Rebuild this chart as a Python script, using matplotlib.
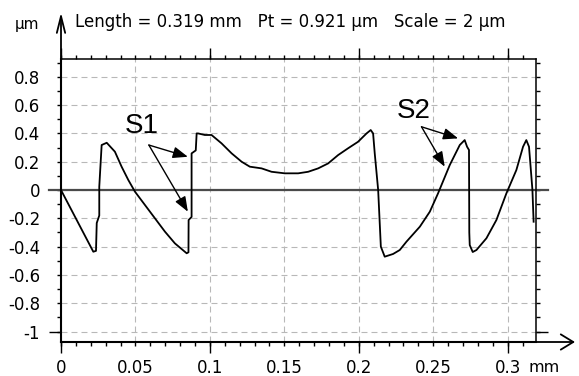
import matplotlib
matplotlib.use('Agg')
import matplotlib.pyplot as plt
from matplotlib.ticker import MultipleLocator, FuncFormatter

# ---------------- data ----------------
x_mm = [0.0, 0.0217, 0.0235, 0.0240, 0.0257, 0.0257, 0.0273, 0.0307,
        0.0362, 0.0407, 0.0452, 0.0497, 0.0564, 0.0631, 0.0698, 0.0765, 0.0844,
        0.0856, 0.0857, 0.0877, 0.0877, 0.0905, 0.0911,
        0.0921, 0.0966, 0.1011, 0.1078, 0.1146, 0.1213, 0.1268, 0.1347, 0.1414,
        0.1503, 0.1593, 0.1660, 0.1727, 0.1794, 0.1861, 0.1928, 0.1995, 0.2052,
        0.2080, 0.2096, 0.2107, 0.2130, 0.2148, 0.2174,
        0.2230, 0.2275, 0.2320, 0.2410, 0.2477, 0.2532, 0.2611, 0.2678, 0.2711,
        0.2727, 0.2740, 0.2742, 0.2745, 0.2765, 0.2790, 0.2857, 0.2924, 0.2991,
        0.3058, 0.3103, 0.3125, 0.3143, 0.3152, 0.3166, 0.3174]
y_um = [0.0, -0.436, -0.43, -0.233, -0.18, 0.023, 0.318, 0.334,
        0.271, 0.165, 0.071, -0.012, -0.106, -0.2, -0.294, -0.377, -0.447,
        -0.44, -0.212, -0.19, 0.259, 0.28, 0.40,
        0.40, 0.389, 0.389, 0.33, 0.259, 0.2, 0.165, 0.153, 0.129,
        0.118, 0.118, 0.129, 0.153, 0.188, 0.247, 0.295, 0.341, 0.40,
        0.424, 0.40, 0.259, 0.0, -0.40, -0.471,
        -0.452, -0.424, -0.365, -0.259, -0.153, -0.024, 0.177, 0.318, 0.353,
        0.306, 0.283, -0.30, -0.389, -0.438, -0.424, -0.341, -0.212, -0.024,
        0.141, 0.306, 0.353, 0.306, 0.188, 0.0, -0.224]

length_mm = 0.319
pt_um = 0.921
scale_um = 2

x_long_ticks = [0, 0.1, 0.2, 0.3]
y_long_ticks = [-1]

s1_label = "S1"
s2_label = "S2"
# ----------------------------------------------------------------

plt.rcParams['font.family'] = ['DejaVu Sans']
plt.rcParams['axes.unicode_minus'] = False
plt.rcParams['lines.scale_dashes'] = False

W, H = 579, 376
fig = plt.figure(figsize=(W / 100, H / 100), dpi=100)
fig.patch.set_facecolor('white')
ax = fig.add_axes([61 / W, 34 / H, 475 / W, 283 / H])

ax.set_xlim(0, length_mm)
ax.set_ylim(-1.074, 0.926)

fmt = FuncFormatter(lambda v, p: f"{v:g}" if abs(v) > 1e-9 else "0")
ax.xaxis.set_major_locator(MultipleLocator(0.05))
ax.xaxis.set_minor_locator(MultipleLocator(0.01))
ax.xaxis.set_major_formatter(fmt)
ax.yaxis.set_major_locator(MultipleLocator(0.2))
ax.yaxis.set_minor_locator(MultipleLocator(0.1))
ax.yaxis.set_major_formatter(fmt)

ax.tick_params(axis='x', which='both', direction='out', length=3, width=1,
               top=True, bottom=True, pad=9.0, labelsize=12)
ax.tick_params(axis='y', which='both', direction='out', length=3, width=1,
               left=True, right=True, pad=12, labelsize=12)

for side in ['left', 'bottom']:
    ax.spines[side].set_linewidth(1.5)
for side in ['top', 'right']:
    ax.spines[side].set_linewidth(1.1)

# grid (dashed gray)
ax.grid(axis='both', which='major', color='#b8b8b8', linewidth=0.8,
        linestyle=(0, (4.3, 2.9)))
ax.set_axisbelow(True)

# long ticks at multiples of 0.1 mm (bottom and top)
for loc in ['bottom', 'top']:
    sec = ax.secondary_xaxis(loc)
    sec.set_xticks(x_long_ticks)
    sec.tick_params(direction='out', length=8, width=1,
                    labelbottom=False, labeltop=False)
    sec.spines[loc].set_visible(False)

# long ticks at -1 (left and right)
for loc in ['left', 'right']:
    sec = ax.secondary_yaxis(loc)
    sec.set_yticks(y_long_ticks)
    sec.tick_params(direction='out', length=8.6, width=1,
                    labelleft=False, labelright=False)
    sec.spines[loc].set_visible(False)

# zero line extending beyond the frame
ext = 12 / 475
ax.axhline(0, xmin=-ext, xmax=1 + ext, color='#4a4a4a', linewidth=1.6,
           clip_on=False, zorder=2)

# profile trace
ax.plot(x_mm, y_um, color='black', linewidth=1.3, zorder=3)

# axis arrows
ax.annotate('', xy=(0, 1 + 46.5 / 283), xycoords='axes fraction',
            xytext=(0, 1.0), textcoords='axes fraction',
            arrowprops=dict(arrowstyle='->,head_length=1.2,head_width=0.3',
                            mutation_scale=10, lw=1.3, color='black',
                            shrinkA=0, shrinkB=0),
            annotation_clip=False)
ax.annotate('', xy=(1 + 39 / 475, 0), xycoords='axes fraction',
            xytext=(1.0, 0), textcoords='axes fraction',
            arrowprops=dict(arrowstyle='->,head_length=0.9,head_width=0.55',
                            mutation_scale=10, lw=1.3, color='black',
                            shrinkA=0, shrinkB=0),
            annotation_clip=False)

# header texts
fig.text(15 / W, 1 - 29 / H, 'μm', fontsize=11, va='baseline', ha='left')
fig.text(75 / W, 1 - 27 / H,
         f'Length = {length_mm} mm   Pt = {pt_um} μm   Scale = {scale_um} μm',
         fontsize=12, va='baseline', ha='left')
fig.text(528 / W, 1 - 359.5 / H, 'mm', fontsize=11.5, va='top', ha='left')

# S1 / S2 annotations
arrow_kw = dict(arrowstyle='-|>,head_length=0.9,head_width=0.35',
                mutation_scale=10, lw=1.0, color='black',
                shrinkA=0, shrinkB=0)
ax.text(0.054, 0.452, s1_label, fontsize=20, family='Liberation Sans',
        ha='center', va='center')
for tip in [(0.0852, 0.235), (0.0852, -0.153)]:
    ax.annotate('', xy=tip, xytext=(0.0590, 0.318), arrowprops=arrow_kw)
ax.text(0.237, 0.558, s2_label, fontsize=20, family='Liberation Sans',
        ha='center', va='center')
for tip in [(0.2667, 0.365), (0.2577, 0.165)]:
    ax.annotate('', xy=tip, xytext=(0.2421, 0.447), arrowprops=arrow_kw)

fig.savefig('out.png', dpi=100, facecolor='white')
